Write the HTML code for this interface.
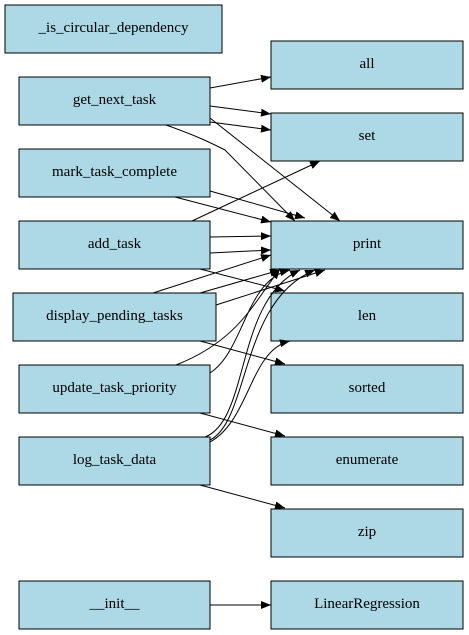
<!DOCTYPE html>
<html><head><style>body{margin:0;background:#fff;position:relative;width:469px;height:635px;overflow:hidden}svg{display:block;position:absolute;left:0;top:0}
.l{position:absolute;font-family:"Liberation Serif","Times New Roman","DejaVu Serif",Times,serif;font-size:15px;text-align:center;line-height:48px;height:48px;white-space:nowrap;color:#000}</style></head><body>
<svg width="469" height="635" viewBox="0 0 469 635" xmlns="http://www.w3.org/2000/svg">
<defs><marker id="a" markerWidth="10" markerHeight="8" refX="10" refY="4" orient="auto" markerUnits="userSpaceOnUse"><path d="M0,0 L10,4 L0,8 z" fill="#000"/></marker></defs>
<g fill="#add8e6" stroke="#000" stroke-width="1">
<rect x="5" y="5" width="217" height="48"/>
<rect x="19" y="77" width="191" height="48"/>
<rect x="19" y="149" width="191" height="48"/>
<rect x="19" y="221" width="191" height="48"/>
<rect x="13" y="293" width="203" height="48"/>
<rect x="19" y="365" width="191" height="48"/>
<rect x="19" y="437" width="191" height="48"/>
<rect x="19" y="581" width="191" height="48"/>
<rect x="271" y="41" width="192" height="48"/>
<rect x="271" y="113" width="192" height="48"/>
<rect x="271" y="221" width="192" height="48"/>
<rect x="271" y="293" width="192" height="48"/>
<rect x="271" y="365" width="192" height="48"/>
<rect x="271" y="437" width="192" height="48"/>
<rect x="271" y="509" width="192" height="48"/>
<rect x="271" y="581" width="192" height="48"/>
</g>
<g fill="none" stroke="#000" stroke-width="1" marker-end="url(#a)">
<path d="M210,88 L271,77"/>
<path d="M210,106 L271,114"/>
<path d="M210,122 L271,130"/>
<path d="M166,125 C200,137 215,145 225,150 L295,221"/>
<path d="M210,118 L340,221"/>
<path d="M175,197 L271,222"/>
<path d="M210,191 L305,218"/>
<path d="M192,221 L320,161"/>
<path d="M210,237 L271,236"/>
<path d="M210,253 L271,250"/>
<path d="M200,269 L285,291"/>
<path d="M153,293 L271,255"/>
<path d="M200,293 L280,270"/>
<path d="M216,305 L325,270"/>
<path d="M200,341 L285,364"/>
<path d="M176,365 C240,340 255,300 280,269"/>
<path d="M210,373 C245,350 245,280 290,270"/>
<path d="M200,413 L285,436"/>
<path d="M205,437 C250,420 235,300 300,270"/>
<path d="M210,440 C250,420 240,300 315,270"/>
<path d="M210,442 C250,420 250,350 290,341"/>
<path d="M200,485 L285,508"/>
<path d="M210,605 L271,605"/>
</g>
</svg>
<div class="l" style="left:5px;top:4px;width:217px">_is_circular_dependency</div>
<div class="l" style="left:19px;top:76px;width:191px">get_next_task</div>
<div class="l" style="left:19px;top:148px;width:191px">mark_task_complete</div>
<div class="l" style="left:19px;top:220px;width:191px">add_task</div>
<div class="l" style="left:13px;top:292px;width:203px">display_pending_tasks</div>
<div class="l" style="left:19px;top:364px;width:191px">update_task_priority</div>
<div class="l" style="left:19px;top:436px;width:191px">log_task_data</div>
<div class="l" style="left:19px;top:580px;width:191px">__init__</div>
<div class="l" style="left:271px;top:40px;width:192px">all</div>
<div class="l" style="left:271px;top:112px;width:192px">set</div>
<div class="l" style="left:271px;top:220px;width:192px">print</div>
<div class="l" style="left:271px;top:292px;width:192px">len</div>
<div class="l" style="left:271px;top:364px;width:192px">sorted</div>
<div class="l" style="left:271px;top:436px;width:192px">enumerate</div>
<div class="l" style="left:271px;top:508px;width:192px">zip</div>
<div class="l" style="left:271px;top:580px;width:192px">LinearRegression</div>
</body></html>
